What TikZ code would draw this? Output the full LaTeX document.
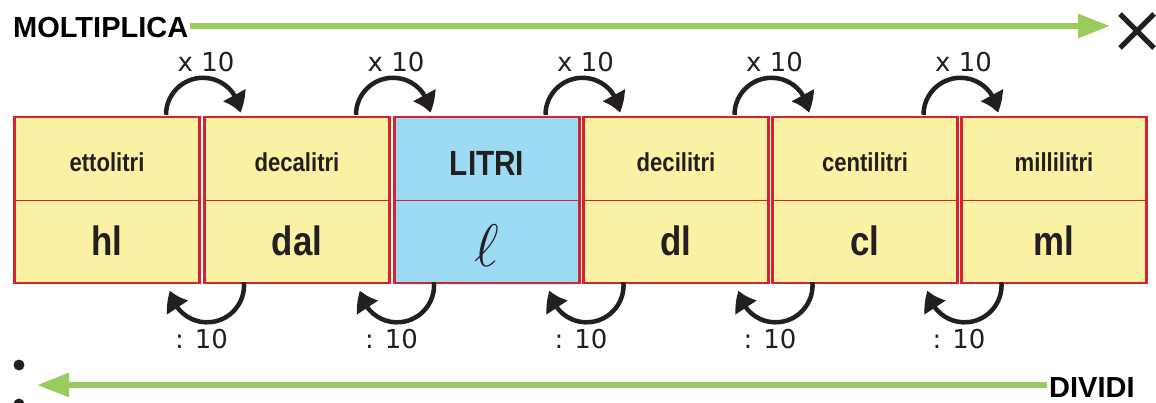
\RequirePackage{fix-cm}
\documentclass[tikz,border=0pt]{standalone}
\usepackage{fontspec}
\setmainfont{Liberation Sans}
\newfontfamily\cellfont[FakeStretch=0.85]{Liberation Sans}
\newfontfamily\stepfont{DejaVu Sans}
\usetikzlibrary{arrows.meta,bending,calc}
\definecolor{cellyellow}{RGB}{250,241,164}
\definecolor{cellblue}{RGB}{157,219,245}
\definecolor{framered}{RGB}{215,35,45}
\definecolor{arrowgreen}{RGB}{153,204,92}
\definecolor{inkgray}{RGB}{35,31,32}
\tikzset{
  cell/.style={fill=cellyellow, minimum width=185pt, minimum height=83pt, inner sep=0pt, text=inkgray},
  unitname/.style={cell, font=\cellfont\bfseries\fontsize{26}{26}\selectfont, text height=27pt, text depth=0pt},
  unitsym/.style={cell, font=\cellfont\bfseries\fontsize{41}{41}\selectfont, text height=29pt, text depth=0pt},
  frame/.style={draw=framered, line width=2.5pt},
  midline/.style={draw=framered, line width=1pt},
  bigarrow/.style={draw=arrowgreen, line width=6pt, -{Triangle[length=32pt,width=23pt]}},
  stepcurve/.style={draw=inkgray, line width=4.5pt, -{Triangle[length=19pt,width=24pt,bend]}},
  steplabel/.style={font=\stepfont\fontsize{26}{26}\selectfont, text=inkgray, inner sep=0pt, anchor=base},
  caption/.style={font=\bfseries\fontsize{29}{29}\selectfont, text=black, inner sep=2pt, anchor=base west}
}
\begin{document}
\begin{tikzpicture}[x=1pt,y=1pt]
  \useasboundingbox (0,0) rectangle (1156,-403);
  % names of the units
  \node[unitname] (h1) at (107,-158.5) {ettolitri};
  \node[unitname] (h2) at (297,-158.5) {decalitri};
  \node[unitname, fill=cellblue, font=\cellfont\bfseries\fontsize{35}{35}\selectfont, text height=35pt] (h3) at (487,-158.5) {LITRI};
  \node[unitname] (h4) at (676,-158.5) {decilitri};
  \node[unitname] (h5) at (865,-158.5) {centilitri};
  \node[unitname] (h6) at (1054,-158.5) {millilitri};
  % symbols
  \node[unitsym] (s1) at (107,-241.5) {hl};
  \node[unitsym] (s2) at (297,-241.5) {dal};
  \node[unitsym, fill=cellblue, font=\fontsize{60}{60}\selectfont, text height=49pt] (s3) at (487,-241.5) {$\ell$};
  \node[unitsym] (s4) at (676,-241.5) {dl};
  \node[unitsym] (s5) at (865,-241.5) {cl};
  \node[unitsym] (s6) at (1054,-241.5) {ml};
  \foreach \i in {1,...,6} {
    \draw[frame] (h\i.north west) rectangle (s\i.south east);
    \draw[midline] (h\i.south west) -- (h\i.south east);
  }
  % x 10 and : 10 between the columns
  \foreach \i/\j in {1/2,2/3,3/4,4/5,5/6} {
    \coordinate (g\i) at ($(h\i.north east)!0.5!(h\j.north west)$);
    \coordinate (gb\i) at ($(s\i.south east)!0.5!(s\j.south west)$);
    \draw[stepcurve] ([shift={(-36,2)}]g\i) arc[start angle=180, end angle=3, radius=37];
    \draw[stepcurve] ([shift={(41.9,1.1)}]gb\i) arc[start angle=5, end angle=-172, radius=37];
    \node[steplabel] (m\i) at ([shift={(4,45)}]g\i) {x 10};
    \node[steplabel] (d\i) at ([shift={(-0.5,-65)}]gb\i) {: 10};
  }
  % green arrows
  \node[caption] (mul) at (11,-38) {MOLTIPLICA};
  \coordinate (mtip) at (1110,-26);
  \draw[bigarrow] (mul.east |- mtip) -- (mtip);
  \draw[inkgray, line width=5pt] (1120,-14) -- (1154,-48) (1120,-48) -- (1154,-14);
  \node[caption] (div) at (1047,-397) {DIVIDI};
  \coordinate (dtip) at (37,-385);
  \draw[bigarrow] (div.west |- dtip) -- (dtip);
  \fill[inkgray] (19,-365) circle[radius=5.5];
  \fill[inkgray] (19,-404) circle[radius=5.5];
\end{tikzpicture}
\end{document}
